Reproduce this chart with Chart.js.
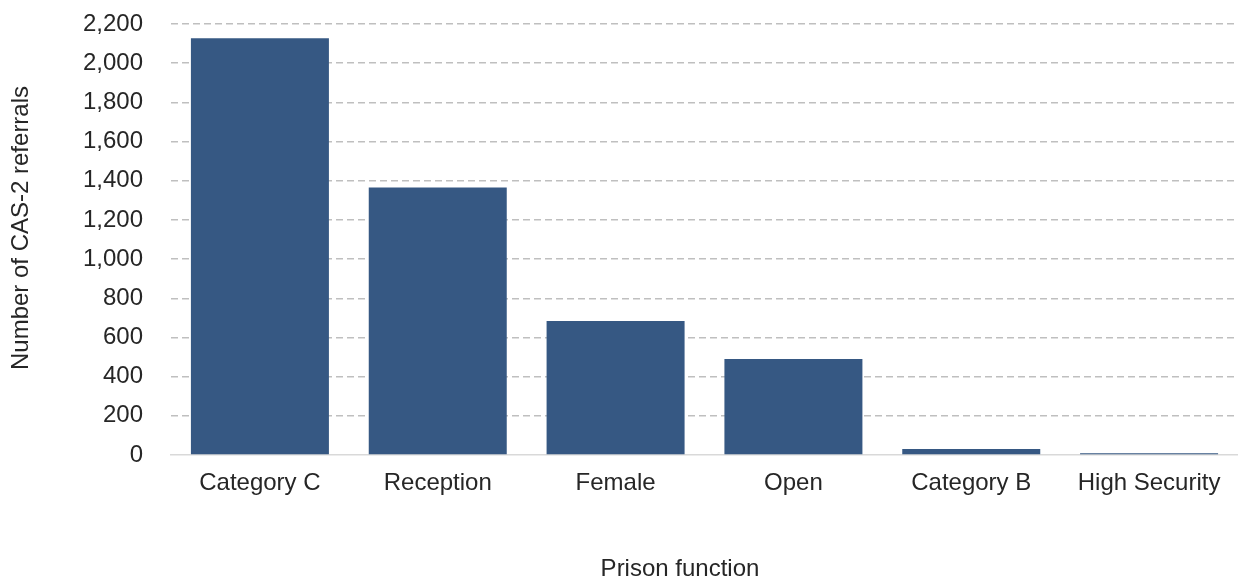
<!DOCTYPE html>
<html>
<head>
<meta charset="utf-8">
<script src="https://cdn.jsdelivr.net/npm/chart.js@4.4.1/dist/chart.umd.min.js"></script>
<style>
  html, body { margin: 0; padding: 0; background: #fff; }
  #wrap { width: 1238px; height: 581px; position: relative; }
</style>
</head>
<body>
<div id="wrap"><canvas id="chart"></canvas></div>
<script>
// Chart data
const categories = ['Category C', 'Reception', 'Female', 'Open', 'Category B', 'High Security'];
const referrals = [2127, 1366, 684, 490, 30, 9];
const yTicks = [0, 200, 400, 600, 800, 1000, 1200, 1400, 1600, 1800, 2000, 2200];

const xTitle = 'Prison function';
const yTitle = 'Number of CAS-2 referrals';

const FONT = "'Liberation Sans', Arial, sans-serif";
const TEXT = '#262626';

// axis titles drawn by hand so they sit where Excel put them
const axisTitles = {
    id: 'axisTitles',
    afterDraw(chart) {
        const ctx = chart.ctx;
        ctx.save();
        ctx.fillStyle = TEXT;
        ctx.font = '24px ' + FONT;
        ctx.textAlign = 'center';
        ctx.textBaseline = 'alphabetic';
        ctx.fillText(xTitle, 680, 576);
        ctx.translate(28, 228);
        ctx.rotate(-Math.PI / 2);
        ctx.fillText(yTitle, 0, 0);
        ctx.restore();
    }
};

new Chart(document.getElementById('chart'), {
    type: 'bar',
    data: {
        labels: categories,
        datasets: [{
            data: referrals,
            backgroundColor: '#365883',
            borderWidth: 0,
            barPercentage: 0.776,
            categoryPercentage: 1
        }]
    },
    options: {
        responsive: true,
        maintainAspectRatio: false,
        animation: false,
        layout: { padding: { left: 0, right: 0, top: 24, bottom: 0 } },
        plugins: {
            legend: { display: false },
            tooltip: { enabled: false }
        },
        scales: {
            x: {
                afterFit: s => { s.height = 126; s.paddingLeft = 0; s.paddingRight = 0; },
                grid: { display: false, drawTicks: false },
                border: { display: true, color: '#D9D9D9', width: 1.5 },
                ticks: {
                    color: TEXT,
                    font: { family: FONT, size: 24 },
                    padding: 14,
                    maxRotation: 0,
                    autoSkip: false
                }
            },
            y: {
                min: 0,
                max: 2200,
                afterFit: s => { s.width = 171; s.paddingTop = 0; s.paddingBottom = 0; },
                afterBuildTicks: s => { s.ticks = yTicks.map(v => ({ value: v })); },
                grid: {
                    color: c => c.tick.value === 0 ? 'rgba(0,0,0,0)' : '#BFBFBF',
                    lineWidth: 1.5,
                    drawTicks: false
                },
                border: { display: false, dash: [7, 4] },
                ticks: {
                    color: TEXT,
                    font: { family: FONT, size: 24 },
                    padding: 28,
                    callback: v => v.toLocaleString('en-GB')
                }
            }
        }
    },
    plugins: [axisTitles]
});
</script>
</body>
</html>
